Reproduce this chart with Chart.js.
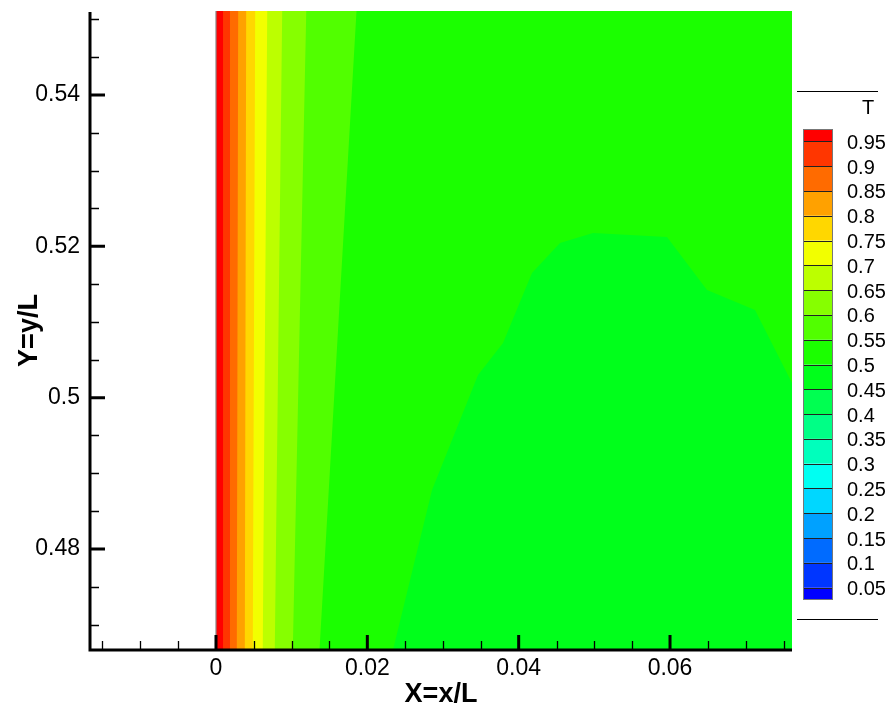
<!DOCTYPE html>
<html>
<head>
<meta charset="utf-8">
<script src="https://cdn.jsdelivr.net/npm/chart.js@4/dist/chart.umd.min.js"></script>
<style>
  html, body { margin: 0; padding: 0; background: #fff; }
  #wrap { width: 890px; height: 709px; }
</style>
</head>
<body>
<div id="wrap"><canvas id="tempChart" width="890" height="709"></canvas></div>
<script>
// view window (x = x/L, y = y/L)
const X_MIN = -0.01665, X_MAX = 0.07612;
const Y_MIN = 0.46665, Y_MAX = 0.5511;

// iso-lines of T near the hot wall: x position at top and bottom of the view
const levels         = [0.55,    0.6,     0.65,    0.7,     0.75,    0.8,     0.85,    0.9,     0.95];
const contourTopX    = [0.01857, 0.01193, 0.00875, 0.00677, 0.00518, 0.00399, 0.00293, 0.00185, 0.00093];
const contourBottomX = [0.01368, 0.01015, 0.00777, 0.00618, 0.00486, 0.00381, 0.00275, 0.00185, 0.00093];

// iso-line T = 0.5 (the bump on the right), left to right
const bumpX = [0.02339, 0.02855, 0.03463, 0.03793, 0.04176, 0.04546, 0.04982, 0.05960, 0.06489, 0.07123, 0.07612];
const bumpY = [0.46665, 0.48780, 0.50300, 0.50722, 0.51648, 0.52044, 0.52176, 0.52123, 0.51423, 0.51159, 0.50194];

// legend levels, top to bottom
const legendLevels = [0.95, 0.9, 0.85, 0.8, 0.75, 0.7, 0.65, 0.6, 0.55, 0.5,
                      0.45, 0.4, 0.35, 0.3, 0.25, 0.2, 0.15, 0.1, 0.05];

// axis ticks
const xTicks = [0, 0.02, 0.04, 0.06];
const yTicks = [0.48, 0.5, 0.52, 0.54];
const xMinor = [-0.015, -0.01, -0.005, 0.005, 0.01, 0.015, 0.025, 0.03, 0.035,
                0.045, 0.05, 0.055, 0.065, 0.07, 0.075];
const yMinor = [0.47, 0.475, 0.485, 0.49, 0.495, 0.505, 0.51, 0.515,
                0.525, 0.53, 0.535, 0.545, 0.55];

const NBANDS = 20;

// tecplot-like rainbow: blue -> cyan -> green -> yellow -> red
function rainbow(v) {
    let r, g, b;
    if (v < 0.25)      { r = 0; g = v / 0.25; b = 1; }
    else if (v < 0.5)  { r = 0; g = 1; b = 1 - (v - 0.25) / 0.25; }
    else if (v < 0.75) { r = (v - 0.5) / 0.25; g = 1; b = 0; }
    else               { r = 1; g = 1 - (v - 0.75) / 0.25; b = 0; }
    return `rgb(${Math.round(r * 255)},${Math.round(g * 255)},${Math.round(b * 255)})`;
}

// band i covers [i*0.05, (i+1)*0.05]
function bandColor(i) {
    return rainbow(i / (NBANDS - 1));
}
function bandIndex(level) {
    return Math.round(level / 0.05);
}

const datasets = [];

// T between 0.5 and 0.55 fills the whole domain first
datasets.push({
    data: [{ x: 0, y: Y_MAX }, { x: X_MAX, y: Y_MAX }],
    fill: 'start',
    backgroundColor: bandColor(bandIndex(0.5)),
    order: 100
});

// T between 0.45 and 0.5: below the bump
datasets.push({
    data: bumpX.map((x, i) => ({ x, y: bumpY[i] })),
    fill: 'start',
    backgroundColor: bandColor(bandIndex(0.45)),
    order: 90
});

// strips T > level, hotter ones on top
levels.forEach((lv, k) => {
    datasets.push({
        data: [
            { x: 0, y: Y_MAX },
            { x: 0, y: Y_MIN },
            { x: contourBottomX[k], y: Y_MIN },
            { x: contourTopX[k], y: Y_MAX }
        ],
        fill: 'shape',
        backgroundColor: bandColor(bandIndex(lv)),
        order: 50 - k
    });
});

// wall line at x = 0
datasets.push({
    data: [{ x: 0, y: Y_MIN }, { x: 0, y: Y_MAX }],
    fill: false,
    borderColor: '#8a8a8a',
    borderWidth: 1.2,
    order: 0
});

datasets.forEach(ds => {
    ds.showLine = true;
    ds.pointRadius = 0;
    ds.tension = 0;
    if (ds.borderWidth === undefined) {
        ds.borderWidth = 0;
        ds.borderColor = 'rgba(0,0,0,0)';
    }
});

const FONT = "'Liberation Sans', Arial, sans-serif";

function fmt(v) {
    return String(parseFloat(v.toFixed(3)));
}

// axes lines, inward ticks, titles and the contour legend
const plotDecor = {
    id: 'plotDecor',
    afterDatasetsDraw(chart) {
        const ctx = chart.ctx;
        const ca = chart.chartArea;
        const xs = chart.scales.x;
        const ys = chart.scales.y;
        ctx.save();
        ctx.strokeStyle = '#000';

        // minor ticks
        ctx.lineWidth = 1.3;
        ctx.beginPath();
        xMinor.forEach(v => {
            const px = Math.round(xs.getPixelForValue(v)) + 0.5;
            ctx.moveTo(px, ca.bottom);
            ctx.lineTo(px, ca.bottom - 9);
        });
        yMinor.forEach(v => {
            const py = Math.round(ys.getPixelForValue(v)) + 0.5;
            ctx.moveTo(ca.left, py);
            ctx.lineTo(ca.left + 9, py);
        });
        ctx.stroke();

        // major ticks
        ctx.lineWidth = 3;
        ctx.beginPath();
        xTicks.forEach(v => {
            const px = xs.getPixelForValue(v);
            ctx.moveTo(px, ca.bottom);
            ctx.lineTo(px, ca.bottom - 15);
        });
        yTicks.forEach(v => {
            const py = ys.getPixelForValue(v);
            ctx.moveTo(ca.left, py);
            ctx.lineTo(ca.left + 15, py);
        });
        ctx.stroke();

        // axis lines (left and bottom only)
        ctx.lineWidth = 3;
        ctx.beginPath();
        ctx.moveTo(ca.left, ca.top + 1);
        ctx.lineTo(ca.left, ca.bottom + 1.5);
        ctx.moveTo(ca.left - 1.5, ca.bottom);
        ctx.lineTo(ca.right, ca.bottom);
        ctx.stroke();
        ctx.restore();
    },
    afterDraw(chart) {
        const ctx = chart.ctx;
        const ca = chart.chartArea;
        ctx.save();
        ctx.fillStyle = '#000';

        // axis titles
        ctx.font = `bold 27px ${FONT}`;
        ctx.textAlign = 'center';
        ctx.textBaseline = 'alphabetic';
        ctx.fillText('X=x/L', (ca.left + ca.right) / 2, 702);
        ctx.save();
        ctx.translate(37, (ca.top + ca.bottom) / 2);
        ctx.rotate(-Math.PI / 2);
        ctx.fillText('Y=y/L', 0, 0);
        ctx.restore();

        // legend
        const lx = 803, lw = 30;
        const barTop = 129, barBottom = 600;
        const unit = (barBottom - barTop) / (NBANDS - 1);
        const yAt = k => barTop + unit / 2 + k * unit;   // boundary of legendLevels[k]

        ctx.strokeStyle = '#000';
        ctx.lineWidth = 1;
        ctx.beginPath();
        ctx.moveTo(797, 91.5); ctx.lineTo(878, 91.5);
        ctx.moveTo(797, 619.5); ctx.lineTo(878, 619.5);
        ctx.stroke();

        ctx.font = `20px ${FONT}`;
        ctx.textAlign = 'center';
        ctx.textBaseline = 'middle';
        ctx.fillText('T', 868, 108);

        // boxes from top (hottest) to bottom
        for (let i = NBANDS - 1; i >= 0; i--) {
            const k = NBANDS - 1 - i;          // 0 for top box
            const y0 = k === 0 ? barTop : yAt(k - 1);
            const y1 = k === NBANDS - 1 ? barBottom : yAt(k);
            ctx.fillStyle = bandColor(i);
            ctx.fillRect(lx, y0, lw, y1 - y0);
        }
        ctx.strokeStyle = '#222';
        ctx.lineWidth = 1;
        ctx.beginPath();
        legendLevels.forEach((lv, k) => {
            const y = Math.round(yAt(k)) + 0.5;
            ctx.moveTo(lx, y);
            ctx.lineTo(lx + lw, y);
        });
        ctx.stroke();
        ctx.strokeStyle = '#777';
        ctx.strokeRect(lx + 0.5, barTop + 0.5, lw - 1, barBottom - barTop - 1);

        ctx.fillStyle = '#000';
        ctx.textAlign = 'left';
        legendLevels.forEach((lv, k) => {
            ctx.fillText(fmt(lv), 847, yAt(k) + 2);
        });
        ctx.restore();
    }
};

new Chart(document.getElementById('tempChart'), {
    type: 'scatter',
    data: { datasets },
    options: {
        responsive: false,
        animation: false,
        events: [],
        layout: { padding: { left: 0, top: 11, right: 98, bottom: 0 } },
        plugins: {
            legend: { display: false },
            tooltip: { enabled: false },
            title: { display: false }
        },
        scales: {
            x: {
                type: 'linear',
                min: X_MIN,
                max: X_MAX,
                grid: { display: false, drawTicks: false },
                border: { display: false },
                afterBuildTicks: scale => { scale.ticks = xTicks.map(v => ({ value: v })); },
                afterFit: scale => {
                    scale.height = 59;
                    scale.paddingLeft = 0;
                    scale.paddingRight = 0;
                },
                ticks: {
                    autoSkip: false,
                    maxRotation: 0,
                    padding: 5,
                    color: '#000',
                    font: { family: FONT, size: 23 },
                    callback: v => fmt(v)
                }
            },
            y: {
                type: 'linear',
                min: Y_MIN,
                max: Y_MAX,
                grid: { display: false, drawTicks: false },
                border: { display: false },
                afterBuildTicks: scale => { scale.ticks = yTicks.map(v => ({ value: v })); },
                afterFit: scale => {
                    scale.width = 90;
                    scale.paddingTop = 0;
                    scale.paddingBottom = 0;
                },
                ticks: {
                    autoSkip: false,
                    padding: 10,
                    color: '#000',
                    font: { family: FONT, size: 23 },
                    callback: v => fmt(v)
                }
            }
        }
    },
    plugins: [plotDecor]
});
</script>
</body>
</html>
